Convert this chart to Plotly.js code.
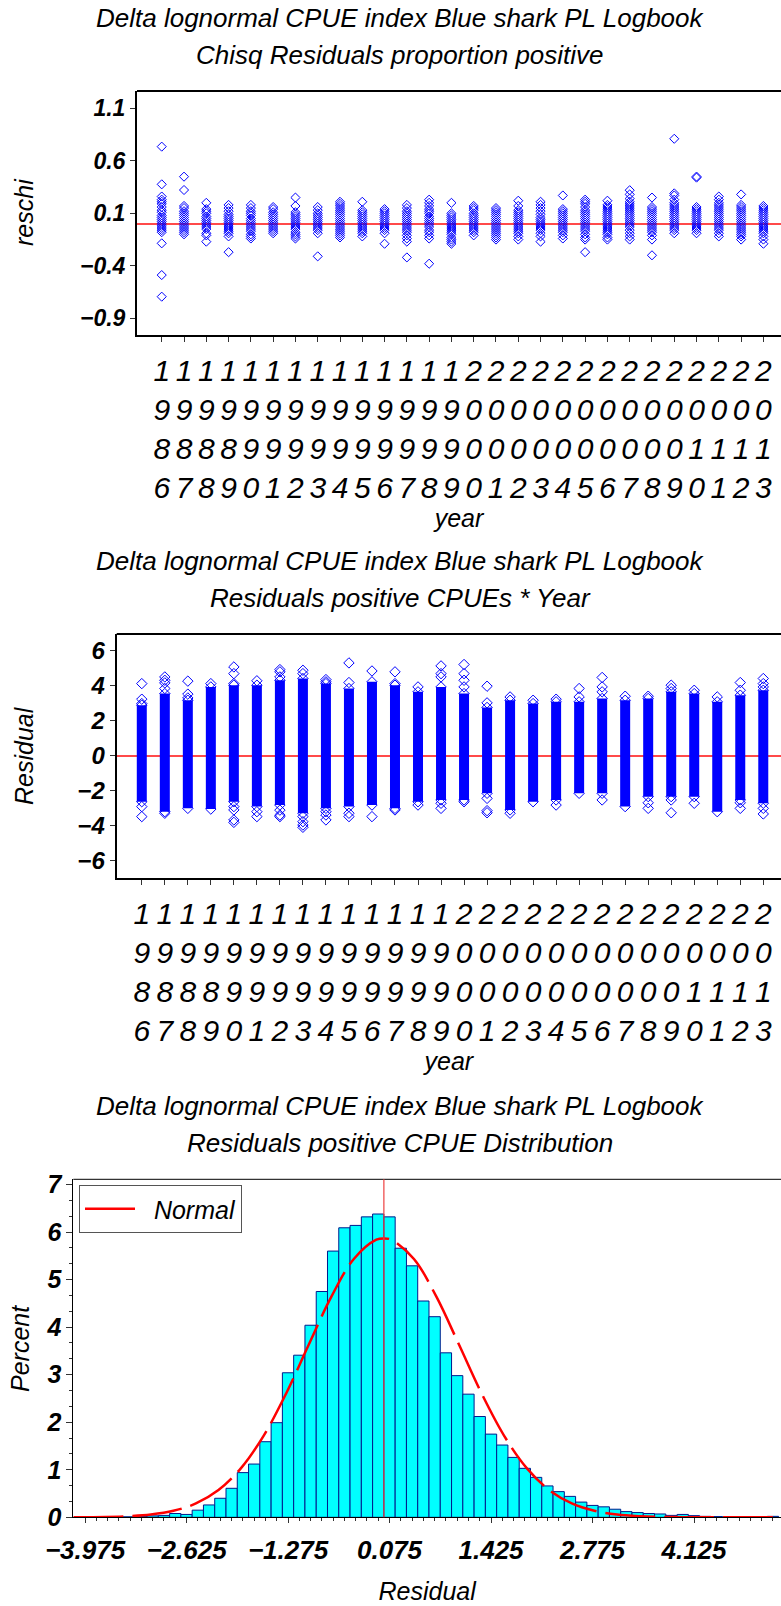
<!DOCTYPE html>
<html>
<head>
<meta charset="utf-8">
<script src="https://cdn.plot.ly/plotly-3.0.1.min.js"></script>
<style>html,body{margin:0;padding:0;background:#fff;}#chart{width:781px;height:1606px;}</style>
</head>
<body>
<div id="chart"></div>
<script>
// ---------------- DATA ----------------
const titleLine1 = "Delta lognormal CPUE index Blue shark PL Logbook";
const titleChisq = "Chisq Residuals proportion positive";
const titleResYear = "Residuals positive CPUEs * Year";
const titleDist = "Residuals positive CPUE Distribution";

const years = [1986,1987,1988,1989,1990,1991,1992,1993,1994,1995,1996,1997,1998,1999,
               2000,2001,2002,2003,2004,2005,2006,2007,2008,2009,2010,2011,2012,2013];

// Panel 1: chi-square residuals of proportion positive, one list per year
const reschiByYear = [
  [0.735,0.376,0.26,0.23,0.21,0.19,0.16,0.13,0.11,0.08,0.06,0.04,0.02,0.0,-0.02,-0.04,-0.06,-0.08,-0.186,-0.488,-0.694],
  [0.449,0.322,0.17,0.15,0.12,0.10,0.08,0.06,0.04,0.02,0.0,-0.02,-0.04,-0.06,-0.08,-0.10],
  [0.20,0.14,0.12,0.10,0.07,0.05,0.03,0.01,-0.01,-0.03,-0.05,-0.09,-0.11,-0.17],
  [0.18,0.15,0.12,0.09,0.07,0.05,0.03,0.01,-0.01,-0.03,-0.05,-0.07,-0.09,-0.12,-0.27],
  [0.18,0.15,0.12,0.10,0.08,0.05,0.03,0.01,-0.01,-0.03,-0.05,-0.07,-0.10,-0.12,-0.14],
  [0.16,0.14,0.11,0.09,0.07,0.05,0.03,0.01,-0.01,-0.03,-0.05,-0.07,-0.09],
  [0.25,0.17,0.11,0.09,0.07,0.05,0.03,0.01,-0.01,-0.03,-0.05,-0.08,-0.10,-0.12,-0.14],
  [0.16,0.13,0.10,0.08,0.06,0.04,0.02,0.0,-0.02,-0.04,-0.06,-0.09,-0.31],
  [0.21,0.19,0.17,0.15,0.13,0.11,0.09,0.07,0.05,0.03,0.01,-0.01,-0.03,-0.05,-0.07,-0.09,-0.11,-0.13],
  [0.21,0.13,0.11,0.09,0.07,0.05,0.03,0.01,-0.01,-0.03,-0.05,-0.07,-0.09,-0.12],
  [0.14,0.12,0.10,0.08,0.06,0.04,0.02,0.0,-0.02,-0.04,-0.06,-0.09,-0.19],
  [0.18,0.15,0.12,0.10,0.08,0.06,0.04,0.02,0.0,-0.02,-0.04,-0.06,-0.08,-0.11,-0.14,-0.17,-0.32],
  [0.23,0.20,0.17,0.14,0.12,0.10,0.07,0.05,0.03,0.01,-0.01,-0.03,-0.06,-0.08,-0.11,-0.14,-0.38],
  [0.20,0.10,0.08,0.06,0.04,0.02,0.0,-0.02,-0.04,-0.06,-0.08,-0.10,-0.13,-0.15,-0.17,-0.19],
  [0.17,0.15,0.13,0.10,0.08,0.06,0.04,0.02,0.0,-0.02,-0.04,-0.06,-0.08,-0.11],
  [0.15,0.13,0.11,0.09,0.07,0.05,0.03,0.01,-0.01,-0.03,-0.05,-0.07,-0.09,-0.11,-0.13,-0.15],
  [0.22,0.17,0.13,0.11,0.09,0.07,0.05,0.03,0.01,-0.01,-0.03,-0.05,-0.07,-0.09,-0.12,-0.15],
  [0.21,0.18,0.15,0.12,0.09,0.06,0.04,0.02,0.0,-0.02,-0.04,-0.06,-0.09,-0.12,-0.17],
  [0.27,0.14,0.12,0.10,0.08,0.06,0.04,0.02,0.0,-0.02,-0.04,-0.06,-0.08,-0.11,-0.14],
  [0.23,0.21,0.19,0.16,0.13,0.11,0.09,0.07,0.05,0.03,0.01,-0.01,-0.03,-0.05,-0.07,-0.10,-0.13,-0.15,-0.27],
  [0.22,0.18,0.16,0.14,0.12,0.10,0.08,0.06,0.04,0.02,0.0,-0.02,-0.04,-0.06,-0.08,-0.10,-0.13,-0.15],
  [0.32,0.28,0.24,0.21,0.19,0.17,0.15,0.13,0.11,0.09,0.07,0.05,0.03,0.01,-0.01,-0.03,-0.06,-0.09,-0.12,-0.15],
  [0.25,0.16,0.14,0.12,0.10,0.08,0.06,0.04,0.02,0.0,-0.02,-0.04,-0.06,-0.08,-0.11,-0.15,-0.30],
  [0.81,0.29,0.27,0.23,0.20,0.18,0.16,0.14,0.12,0.10,0.08,0.06,0.04,0.02,0.0,-0.02,-0.04,-0.06,-0.09],
  [0.45,0.44,0.16,0.14,0.12,0.10,0.08,0.06,0.04,0.02,0.0,-0.02,-0.04,-0.06,-0.09],
  [0.26,0.23,0.20,0.18,0.16,0.14,0.12,0.10,0.08,0.06,0.04,0.02,0.0,-0.02,-0.04,-0.06,-0.09,-0.12],
  [0.28,0.18,0.16,0.14,0.12,0.10,0.08,0.06,0.04,0.02,0.0,-0.02,-0.04,-0.06,-0.08,-0.10,-0.12,-0.15],
  [0.17,0.15,0.13,0.11,0.09,0.07,0.05,0.03,0.01,-0.01,-0.03,-0.05,-0.07,-0.09,-0.12,-0.15,-0.19]
];
const reschiTicks = [-0.9,-0.4,0.1,0.6,1.1];

// Panel 2: residuals of positive CPUEs — dense core range per year plus scattered extremes
const residCoreHigh = [2.89,3.55,3.17,3.93,4.03,4.03,4.31,4.41,4.12,3.84,4.22,4.03,3.65,3.93,
                       3.55,2.76,3.17,2.98,3.08,3.08,3.27,3.17,3.27,3.65,3.55,3.08,3.46,3.74];
const residCoreLow  = [-2.62,-3.19,-3.00,-3.04,-2.62,-2.90,-2.81,-3.28,-3.00,-2.90,-2.81,-3.00,-2.62,-2.52,
                       -2.52,-2.14,-3.09,-2.62,-2.52,-2.14,-2.14,-2.90,-2.33,-2.33,-2.33,-3.19,-2.52,-2.71];
const residExtremes = [
  [4.12,3.23,2.98,-2.9,-3.47],
  [4.50,4.31,4.16,3.84,-3.28],
  [4.26,3.52,3.30],
  [4.12],
  [5.07,4.69,4.12,-2.9,-3.09,-3.66,-3.80],
  [4.28,-3.19,-3.47],
  [4.92,4.79,4.50,-3.10,-3.38,-3.47],
  [4.88,4.69,-3.47,-3.76,-3.95,-4.08],
  [4.35,4.22,-3.19,-3.38,-3.66],
  [5.30,4.18,-3.28,-3.47],
  [4.84,-3.47],
  [4.79,4.12,-3.09],
  [3.93,-2.81],
  [5.13,4.69,4.50,-2.71,-3.00],
  [5.21,4.69,4.31,3.93,-2.62],
  [3.97,3.02,-2.43,-3.13,-3.25],
  [3.36,-3.28],
  [3.17],
  [3.23,-2.81],
  [3.84,3.36],
  [4.47,3.93,3.65,-2.52],
  [3.40],
  [3.40,-2.68,-3.00],
  [4.03,3.84,-2.52,-3.25],
  [3.74,-2.71],
  [3.36],
  [4.18,3.74,-2.68,-3.00],
  [4.41,4.12,3.93,-3.00,-3.32]
];
const residTicks = [-6,-4,-2,0,2,4,6];

// Panel 3: histogram of residuals (bin midpoints, percent)
const binMid = [-3.975,-3.825,-3.675,-3.525,-3.375,-3.225,-3.075,-2.925,-2.775,-2.625,-2.475,-2.325,
  -2.175,-2.025,-1.875,-1.725,-1.575,-1.425,-1.275,-1.125,-0.975,-0.825,-0.675,-0.525,-0.375,-0.225,
  -0.075,0.075,0.225,0.375,0.525,0.675,0.825,0.975,1.125,1.275,1.425,1.575,1.725,1.875,2.025,2.175,
  2.325,2.475,2.625,2.775,2.925,3.075,3.225,3.375,3.525,3.675,3.825,3.975,4.125,4.275,4.425,4.575,
  4.725,4.875,5.025,5.175];
const binPercent = [0.01,0.005,0.01,0.01,0.01,0.02,0.03,0.04,0.08,0.06,0.15,0.26,
  0.40,0.61,0.94,1.12,1.59,1.99,3.04,3.41,4.04,4.75,5.60,6.09,6.14,6.32,
  6.38,6.32,5.66,5.29,4.55,4.22,3.46,2.98,2.59,2.12,1.75,1.52,1.26,1.03,0.84,0.66,
  0.54,0.44,0.32,0.25,0.22,0.17,0.12,0.10,0.08,0.07,0.04,0.06,0.035,0.02,0.015,0.01,
  0.01,0.005,0.005,0.02];
// fitted Normal curve
const normalX = [-4.13,-3.7,-3.4,-3.1,-2.8,-2.5,-2.2,-1.9,-1.6,-1.3,-1.0,-0.7,-0.4,-0.1,0,
  0.1,0.4,0.7,1.0,1.3,1.6,1.9,2.2,2.5,2.8,3.1,3.4,3.7,4.0,4.5,5.28];
const normalPct = [0.002,0.008,0.023,0.058,0.136,0.291,0.573,1.035,1.714,2.604,3.628,4.636,5.433,5.839,5.867,
  5.839,5.433,4.636,3.628,2.604,1.714,1.035,0.573,0.291,0.136,0.058,0.023,0.008,0.003,0.0005,0.0];
const histTickVals = [-3.975,-2.625,-1.275,0.075,1.425,2.775,4.125];
const histTickText = ["\u22123.975","\u22122.625","\u22121.275","0.075","1.425","2.775","4.125"];
const percentTicks = [0,1,2,3,4,5,6,7];

// ---------------- BUILD ----------------
const FONT = "Liberation Sans, Arial, Helvetica, sans-serif";
const W = 781, H = 1606;
const px = v => v / W;
const py = v => 1 - v / H;

const yearLabels = years.map(y => String(y).split('').join('<br>'));

// panel 1 points
const p1x = [], p1y = [];
years.forEach((yr, i) => reschiByYear[i].forEach(v => { p1x.push(yr); p1y.push(v); }));

// panel 2 core segments and extremes
const coreX = [], coreY = [];
years.forEach((yr, i) => { coreX.push(yr, yr, null); coreY.push(residCoreLow[i], residCoreHigh[i], null); });
const extX = [], extY = [];
years.forEach((yr, i) => {
  extX.push(yr, yr); extY.push(residCoreLow[i], residCoreHigh[i]);
  residExtremes[i].forEach(v => { extX.push(yr); extY.push(v); });
});

const blue = '#0000ff';
const traces = [
  { type: 'scatter', mode: 'markers', x: p1x, y: p1y, xaxis: 'x', yaxis: 'y', showlegend: false,
    marker: { symbol: 'diamond-open', size: 7, color: blue, line: { width: 1, color: blue } }, hoverinfo: 'skip' },
  { type: 'scatter', mode: 'lines', x: coreX, y: coreY, xaxis: 'x2', yaxis: 'y2', showlegend: false,
    line: { color: blue, width: 10 }, hoverinfo: 'skip' },
  { type: 'scatter', mode: 'markers', x: extX, y: extY, xaxis: 'x2', yaxis: 'y2', showlegend: false,
    marker: { symbol: 'diamond-open', size: 8, color: blue, line: { width: 1, color: blue } }, hoverinfo: 'skip' },
  { type: 'bar', x: binMid, y: binPercent, xaxis: 'x3', yaxis: 'y3', showlegend: false,
    marker: { color: '#00ffff', line: { color: '#001a8c', width: 1 } }, hoverinfo: 'skip' },
  { type: 'scatter', mode: 'lines', x: normalX, y: normalPct, xaxis: 'x3', yaxis: 'y3', name: '\u00a0\u00a0Normal',
    line: { color: '#ff0000', width: 2.5, dash: '50px,9px', shape: 'spline' }, hoverinfo: 'skip' }
];

const tickFontBold = size => ({ family: FONT, size: size, color: '#000', style: 'italic', weight: 'bold' });
const tickFontReg = size => ({ family: FONT, size: size, color: '#000', style: 'italic', weight: 'normal' });
const titleFont = { family: FONT, size: 25, color: '#000', style: 'italic' };

const baseAxis = { showgrid: false, automargin: false, fixedrange: true, ticks: 'outside',
  tickcolor: '#333', tickwidth: 1, showline: true, linecolor: '#000' };

const layout = {
  width: W, height: H, autosize: false,
  margin: { l: 0, r: 0, t: 0, b: 0, pad: 0 },
  paper_bgcolor: '#fff', plot_bgcolor: '#fff',
  bargap: 0, showlegend: true,
  font: { family: FONT, color: '#000' },
  xaxis: Object.assign({}, baseAxis, {
    domain: [px(137), 1], anchor: 'y', range: [1984.89, 2013.79],
    tickmode: 'array', tickvals: years, ticktext: yearLabels, ticklen: 5, linewidth: 2,
    tickfont: tickFontReg(30), ticklabelstandoff: 3, zeroline: false,
    title: { text: 'year', font: titleFont, standoff: 0 } }),
  yaxis: Object.assign({}, baseAxis, {
    domain: [py(335), py(91)], anchor: 'x', range: [-1.059, 1.265],
    tickmode: 'array', tickvals: reschiTicks, ticktext: ['\u22120.9','\u22120.4','0.1','0.6','1.1'],
    ticklen: 5, linewidth: 2, tickfont: tickFontBold(23),
    zeroline: true, zerolinecolor: '#ff4a4a', zerolinewidth: 1.5 }),
  xaxis2: Object.assign({}, baseAxis, {
    domain: [px(116.7), 1], anchor: 'y2', range: [1984.91, 2013.77],
    tickmode: 'array', tickvals: years, ticktext: yearLabels, ticklen: 5, linewidth: 2,
    tickfont: tickFontReg(30), ticklabelstandoff: 3, zeroline: false,
    title: { text: 'year', font: titleFont, standoff: 0 } }),
  yaxis2: Object.assign({}, baseAxis, {
    domain: [py(878.3), py(634)], anchor: 'x2', range: [-6.99, 6.95],
    tickmode: 'array', tickvals: residTicks, ticktext: ['\u22126','\u22124','\u22122','0','2','4','6'],
    ticklen: 5, linewidth: 2, tickfont: tickFontBold(24),
    zeroline: true, zerolinecolor: '#ff4a4a', zerolinewidth: 1.5 }),
  xaxis3: Object.assign({}, baseAxis, {
    domain: [px(73.3), 1], anchor: 'y3', range: [-4.131, 5.282],
    tickmode: 'array', tickvals: histTickVals, ticktext: histTickText, ticklen: 5, linewidth: 1,
    minor: { tickmode: 'array', tickvals: binMid, ticks: 'outside', ticklen: 3, tickcolor: '#333' },
    tickfont: tickFontBold(26), ticklabelstandoff: 4, zeroline: false,
    title: { text: 'Residual', font: titleFont, standoff: 18 } }),
  yaxis3: Object.assign({}, baseAxis, {
    domain: [py(1517.3), py(1179.3)], anchor: 'x3', range: [0, 7.11],
    tickmode: 'array', tickvals: percentTicks, ticklen: 6, linewidth: 1,
    minor: { tick0: 0, dtick: 1 / 3, ticks: 'outside', ticklen: 3, tickcolor: '#333' },
    tickfont: tickFontBold(25), zeroline: false }),
  legend: {
    x: px(79), y: py(1185), xanchor: 'left', yanchor: 'top', xref: 'paper', yref: 'paper',
    bgcolor: '#fff', bordercolor: '#555', borderwidth: 1, itemwidth: 50,
    font: { family: FONT, size: 25, color: '#000', style: 'italic' }
  },
  shapes: [
    { type: 'line', xref: 'x domain', yref: 'y domain', x0: 0, x1: 1, y0: 1, y1: 1, line: { color: '#000', width: 2 } },
    { type: 'line', xref: 'x2 domain', yref: 'y2 domain', x0: 0, x1: 1, y0: 1, y1: 1, line: { color: '#000', width: 2 } },
    { type: 'line', xref: 'x3 domain', yref: 'y3 domain', x0: 0, x1: 1, y0: 1, y1: 1, line: { color: '#000', width: 1 } },
    { type: 'line', xref: 'x3', yref: 'y3 domain', x0: 0, x1: 0, y0: 0, y1: 1, layer: 'above', line: { color: '#ee4040', width: 1.2 } }
  ],
  annotations: []
};

const titleAnn = (text, yPix) => ({
  text: text, xref: 'paper', yref: 'paper', x: px(400), y: py(yPix), xanchor: 'center', yanchor: 'middle',
  showarrow: false, font: { family: FONT, size: 26, color: '#000', style: 'italic' }
});
const yTitleAnn = (text, xPix, yPix) => ({
  text: text, xref: 'paper', yref: 'paper', x: px(xPix), y: py(yPix), xanchor: 'center', yanchor: 'middle',
  textangle: -90, showarrow: false, font: titleFont
});
layout.annotations.push(
  titleAnn(titleLine1, 18), titleAnn(titleChisq, 55),
  titleAnn(titleLine1, 561), titleAnn(titleResYear, 598),
  titleAnn(titleLine1, 1106), titleAnn(titleDist, 1143),
  yTitleAnn('reschi', 24, 212), yTitleAnn('Residual', 24, 756), yTitleAnn('Percent', 20, 1349)
);

Plotly.newPlot('chart', traces, layout, { staticPlot: true, displayModeBar: false });
</script>
</body>
</html>
